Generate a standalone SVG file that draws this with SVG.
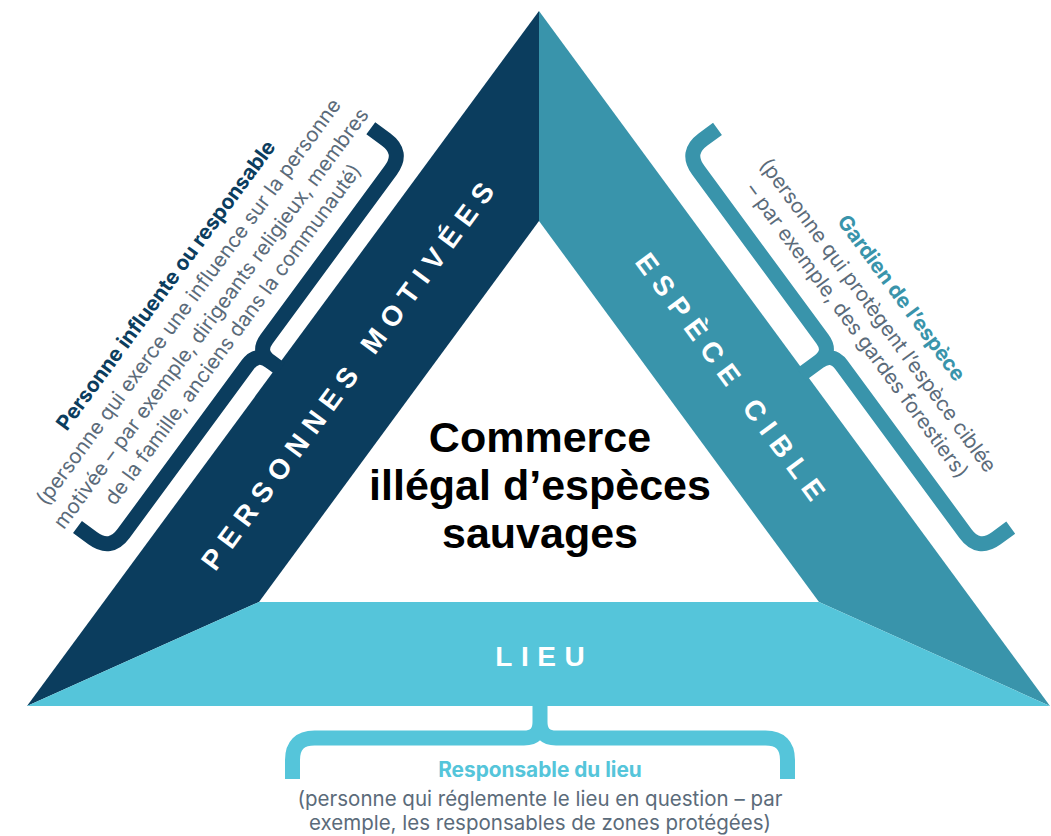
<svg xmlns="http://www.w3.org/2000/svg" width="1051" height="836" viewBox="0 0 1051 836">
  <style>
    .title { font-family: "Liberation Sans", Arial, sans-serif; font-weight: bold; font-size: 43px; fill: #000; text-anchor: middle; }
    .band { font-family: "Liberation Sans", Arial, sans-serif; font-weight: bold; font-size: 28px; fill: #fff; text-anchor: middle; letter-spacing: 8.5px; }
    .head { font-family: Inter, "Liberation Sans", Arial, sans-serif; font-weight: bold; font-size: 20.8px; text-anchor: middle; }
    .body { font-family: Inter, "Liberation Sans", Arial, sans-serif; font-size: 20.5px; fill: #5b6b7a; text-anchor: middle; }
    .brace { fill: none; stroke-width: 15; stroke-linecap: butt; stroke-linejoin: miter; }
  </style>

  <g id="personnes-motivees">
    <polygon points="539,11 539,221 259,602 27,706" fill="#0b3d5e"/>
    <g transform="translate(347.4,376) rotate(-53.65)">
      <text class="band" x="4.25" y="10">PERSONNES MOTIVÉES</text>
    </g>
  </g>

  <g id="espece-cible">
    <polygon points="539,11 1050,706 819,602 539,221" fill="#3994ab"/>
    <g transform="translate(730.7,376.4) rotate(53.67)">
      <text class="band" x="4.25" y="10">ESPÈCE CIBLE</text>
    </g>
  </g>

  <g id="lieu">
    <polygon points="27,706 259,602 819,602 1050,706" fill="#55c5da"/>
    <text class="band" x="544.25" y="666">LIEU</text>
  </g>

  <g id="centre">
    <text class="title" x="540" y="452">Commerce</text>
    <text class="title" x="540" y="500">illégal d’espèces</text>
    <text class="title" x="540" y="548">sauvages</text>
  </g>

  <g id="connectors">
    <path class="brace" stroke="#0b3d5e" transform="translate(277.3,366.7) rotate(126.34)"
      d="M -247.5 66 V 47 Q -247.5 25 -225.5 25 H -16 Q 0 25 0 9 V -4 M 247.5 66 V 47 Q 247.5 25 225.5 25 H 16 Q 0 25 0 9"/>
    <path class="brace" stroke="#3994ab" transform="translate(804.5,372.1) rotate(-126.33)"
      d="M -247.5 74 V 56 Q -247.5 34 -225.5 34 H -16 Q 0 34 0 18 V -4 M 247.5 74 V 56 Q 247.5 34 225.5 34 H 16 Q 0 34 0 18"/>
    <path class="brace" stroke="#55c5da" transform="translate(540,706)"
      d="M -247.5 73 V 54 Q -247.5 32 -225.5 32 H -16 Q 0 32 0 16 V -4 M 247.5 73 V 54 Q 247.5 32 225.5 32 H 16 Q 0 32 0 16"/>
  </g>

  <g id="personne-influente" transform="translate(277.1,367) rotate(-53.65)">
    <text class="head" fill="#0b3d5e" x="0" y="-131">Personne influente ou responsable</text>
    <text class="body" x="0" y="-103">(personne qui exerce une influence sur la personne</text>
    <text class="body" x="0" y="-75">motivée – par exemple, dirigeants religieux, membres</text>
    <text class="body" x="0" y="-48">de la famille, anciens dans la communauté)</text>
  </g>

  <g id="gardien-espece" transform="translate(803.2,370.3) rotate(53.67)">
    <text class="head" fill="#3994ab" x="0" y="-115">Gardien de l’espèce</text>
    <text class="body" x="0" y="-86">(personne qui protègent l’espèce ciblée</text>
    <text class="body" x="0" y="-60">– par exemple, des gardes forestiers)</text>
  </g>

  <g id="responsable-lieu">
    <text class="head" fill="#55c5da" x="540" y="777">Responsable du lieu</text>
    <text class="body" x="540" y="806">(personne qui réglemente le lieu en question – par</text>
    <text class="body" x="540" y="830">exemple, les responsables de zones protégées)</text>
  </g>
</svg>
